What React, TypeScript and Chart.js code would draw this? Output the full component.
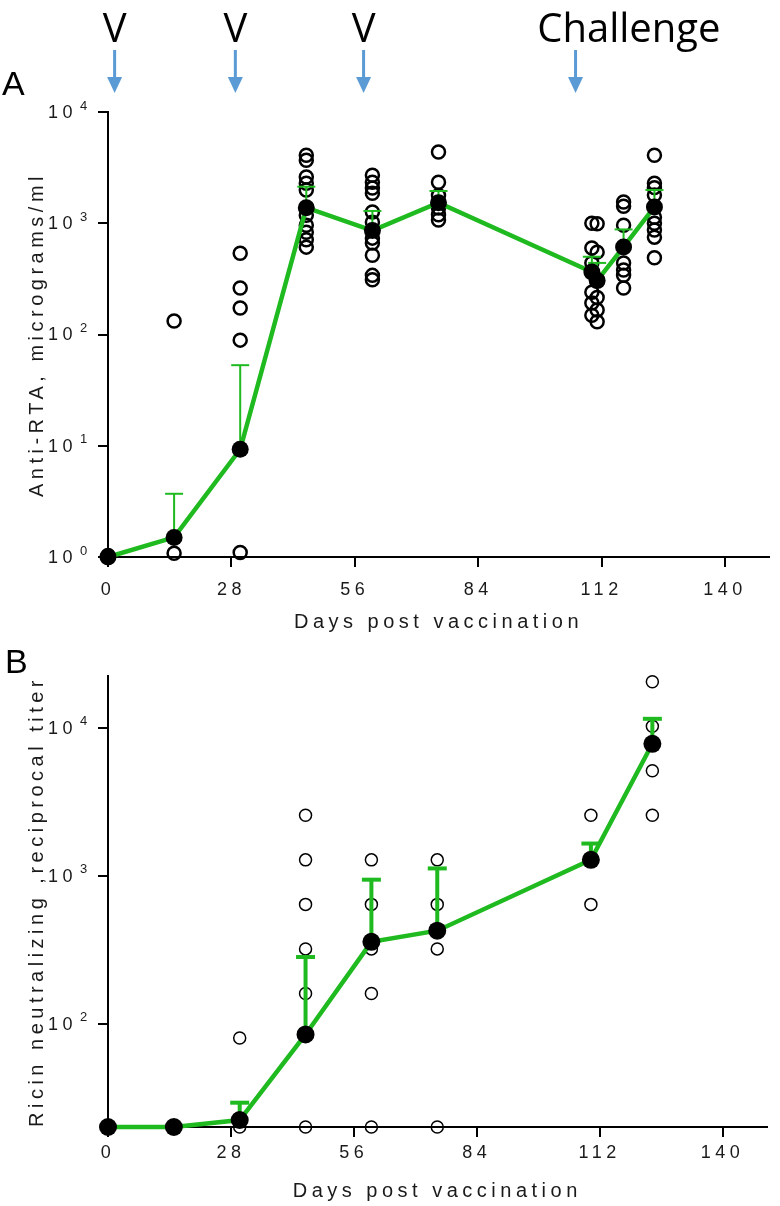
import React, { useEffect, useRef } from 'react';
import { Chart, registerables } from 'chart.js';
Chart.register(...registerables);

// ---------- shared ----------
const xTicks = [0, 28, 56, 84, 112, 140];
const X_MAX = 150;
const xTitle = 'Days post vaccination';

// ---------- panel A ----------
const daysA = [0, 15, 30, 45, 60, 75, 109.8, 111, 117, 124];
const meanA = [1.0, 1.5, 9.3, 1380, 860, 1530, 365, 305, 613, 1400];
const upperA = [null, 3.7, 53, 2130, 1290, 1950, 500, 440, 880, 1990];
const indivA = [
  [1.0, 1.03],
  [132, 1.08],
  [537, 262, 173, 89, 1.1],
  [4090, 3690, 2600, 2290, 1990, 1180, 960, 830, 710, 610],
  [2700, 2340, 2070, 1860, 1260, 1020, 735, 665, 515, 340, 310],
  [4370, 2340, 1780, 1370, 1190, 1070],
  [1000, 600, 440, 240, 192, 149],
  [990, 550, 310, 215, 166, 130],
  [1550, 1420, 960, 440, 380, 340, 262],
  [4090, 2290, 2090, 1790, 1130, 1000, 870, 750, 490],
];
const yTicksA = [1, 10, 100, 1000, 10000];
const yTitleA = 'Anti-RTA, micrograms/ml';

// annotations above panel A
const arrowDays = [1.5, 28.9, 58.0, 106.1];
const annLabels = ['V', 'V', 'V', 'Challenge'];
const annLabelDays = [1.5, 28.9, 58.0, 118.2];

// ---------- panel B ----------
const daysB = [0, 15, 30, 45, 60, 75, 110, 124];
const meanB = [20, 20, 22.3, 84.5, 357, 425, 1280, 7800];
const upperB = [null, null, 29.2, 282, 940, 1120, 1650, 11500];
const indivB = [
  [20],
  [20],
  [80, 20],
  [2560, 1280, 640, 320, 160, 20],
  [1280, 640, 320, 160, 20],
  [1280, 640, 320, 20],
  [2560, 640],
  [20480, 10240, 5120, 2560],
];
const yTicksB = [100, 1000, 10000];
const yTitleB = 'Ricin neutralizing ,reciprocal titer';

const GREEN = '#1fba1f';
const TEXT = '#1a1a1a';
const FAMILY = "'Liberation Sans', Arial, sans-serif";

type Panel = {
  days: number[];
  mean: number[];
  upper: (number | null)[];
  indiv: number[][];
  yTicks: number[];
  yMin: number;
  yMax: number;
  yTitle: string;
  height: number;
  padTop: number;
  xAxisH: number;
  tickPad: number;
  titlePadBottom: number;
  openR: number;
  openW: number;
  meanR: number;
  errW: number;
  capR: number;
  letter: string;
  letterX: number;
  letterY: number;
  annotate: boolean;
};

const letterSpacingPlugin = {
  id: 'letterSpacing',
  beforeDraw(chart: any) {
    (chart.ctx as any).letterSpacing = '4.5px';
  },
};

function makeConfig(p: Panel) {
  const open = p.indiv.flatMap((vals, i) => vals.map((v) => ({ x: p.days[i], y: v })));
  const errLine = p.upper.flatMap((u, i) =>
    u == null ? [] : [{ x: p.days[i], y: p.mean[i] }, { x: p.days[i], y: u }, { x: p.days[i], y: null }]
  );
  const caps = p.upper.flatMap((u, i) => (u == null ? [] : [{ x: p.days[i], y: u }]));
  const meanPts = p.days.map((d, i) => ({ x: d, y: p.mean[i] }));

  const panelPlugin = {
    id: 'panelDecor',
    afterDraw(chart: any) {
      const ctx = chart.ctx;
      const ys = chart.scales.y;
      // y tick labels: 10 with raised exponent
      ctx.save();
      ctx.fillStyle = TEXT;
      (ctx as any).letterSpacing = '4.5px';
      p.yTicks.forEach((v) => {
        const y = ys.getPixelForValue(v);
        const e = Math.round(Math.log10(v));
        ctx.font = `18px ${FAMILY}`;
        ctx.textAlign = 'right';
        ctx.textBaseline = 'middle';
        ctx.fillText('10', 77, y + 1);
        ctx.font = `13px ${FAMILY}`;
        ctx.textAlign = 'left';
        ctx.fillText(String(e), 80, y - 6);
      });
      ctx.restore();

      ctx.save();
      (ctx as any).letterSpacing = '0px';
      ctx.fillStyle = '#000';
      ctx.font = `34px ${FAMILY}`;
      ctx.textAlign = 'left';
      ctx.textBaseline = 'alphabetic';
      ctx.fillText(p.letter, p.letterX, p.letterY);
      if (p.annotate) {
        const xs = chart.scales.x;
        ctx.fillStyle = '#5b9bd5';
        arrowDays.forEach((d) => {
          const x = xs.getPixelForValue(d);
          ctx.fillRect(x - 1.5, 50, 3, 28);
          ctx.beginPath();
          ctx.moveTo(x - 7.5, 77);
          ctx.lineTo(x + 7.5, 77);
          ctx.lineTo(x, 93);
          ctx.closePath();
          ctx.fill();
        });
        ctx.fillStyle = '#000';
        ctx.font = `40px 'Open Sans', sans-serif`;
        ctx.textAlign = 'center';
        annLabels.forEach((t, i) => {
          ctx.fillText(t, xs.getPixelForValue(annLabelDays[i]), 42);
        });
      }
      ctx.restore();
    },
  };

  const axisCommon = {
    grid: { display: true, drawOnChartArea: false, drawTicks: true, tickLength: 10, color: '#000', lineWidth: 2 },
    border: { display: true, color: '#000', width: 2 },
  };

  return {
    type: 'scatter' as const,
    data: {
      datasets: [
        {
          data: meanPts,
          showLine: false,
          pointRadius: p.meanR,
          pointBackgroundColor: '#000',
          pointBorderColor: '#000',
          pointBorderWidth: 0,
          order: 0,
          clip: false,
        },
        {
          data: meanPts,
          showLine: true,
          borderColor: GREEN,
          borderWidth: 4.5,
          pointRadius: 0,
          order: 1,
          clip: false,
        },
        {
          data: caps,
          showLine: false,
          pointStyle: 'line',
          pointRadius: p.capR,
          pointBorderColor: GREEN,
          pointBorderWidth: p.errW,
          order: 2,
          clip: false,
        },
        {
          data: errLine,
          showLine: true,
          spanGaps: false,
          borderColor: GREEN,
          borderWidth: p.errW,
          pointRadius: 0,
          order: 3,
          clip: false,
        },
        {
          data: open,
          showLine: false,
          pointRadius: p.openR,
          pointBackgroundColor: 'rgba(255,255,255,0)',
          pointBorderColor: '#000',
          pointBorderWidth: p.openW,
          order: 4,
          clip: false,
        },
      ],
    },
    options: {
      animation: false,
      responsive: false,
      maintainAspectRatio: false,
      events: [],
      layout: { padding: { top: p.padTop, left: 0, right: 2, bottom: 0 } },
      plugins: { legend: { display: false }, tooltip: { enabled: false } },
      scales: {
        x: {
          type: 'linear',
          min: 0,
          max: X_MAX,
          afterBuildTicks: (s: any) => {
            s.ticks = xTicks.map((v) => ({ value: v }));
          },
          afterFit: (s: any) => {
            s.height = p.xAxisH;
          },
          ticks: {
            color: TEXT,
            font: { size: 18, family: FAMILY },
            padding: p.tickPad,
            maxRotation: 0,
            autoSkip: false,
            callback: (v: any) => String(v),
          },
          title: {
            display: true,
            text: xTitle,
            color: TEXT,
            font: { size: 20, family: FAMILY },
            padding: { top: 0, bottom: p.titlePadBottom },
          },
          ...axisCommon,
        },
        y: {
          type: 'logarithmic',
          min: p.yMin,
          max: p.yMax,
          afterBuildTicks: (s: any) => {
            s.ticks = p.yTicks.map((v) => ({ value: v }));
          },
          afterFit: (s: any) => {
            s.width = 108;
          },
          ticks: {
            display: false,
          },
          title: {
            display: true,
            text: p.yTitle,
            color: TEXT,
            font: { size: 20, family: FAMILY },
            padding: { top: 25, bottom: 0 },
          },
          ...axisCommon,
        },
      },
    },
    plugins: [letterSpacingPlugin, panelPlugin],
  };
}

const panelA: Panel = {
  days: daysA,
  mean: meanA,
  upper: upperA,
  indiv: indivA,
  yTicks: yTicksA,
  yMin: 1,
  yMax: 10000,
  yTitle: yTitleA,
  height: 640,
  padTop: 112,
  xAxisH: 83,
  tickPad: 12,
  titlePadBottom: 6,
  openR: 6.5,
  openW: 2.5,
  meanR: 8.5,
  errW: 2,
  capR: 9,
  letter: 'A',
  letterX: 2,
  letterY: 95,
  annotate: true,
};

const panelB: Panel = {
  days: daysB,
  mean: meanB,
  upper: upperB,
  indiv: indivB,
  yTicks: yTicksB,
  yMin: 20,
  yMax: 22400,
  yTitle: yTitleB,
  height: 566,
  padTop: 36,
  xAxisH: 79,
  tickPad: 5,
  titlePadBottom: 3,
  openR: 6,
  openW: 1.5,
  meanR: 9,
  errW: 4,
  capR: 9.5,
  letter: 'B',
  letterX: 5,
  letterY: 33,
  annotate: false,
};

function PanelChart({ panel, top }: { panel: Panel; top: number }) {
  const ref = useRef<HTMLCanvasElement | null>(null);
  useEffect(() => {
    if (!ref.current) return;
    const chart = new Chart(ref.current, makeConfig(panel) as any);
    return () => chart.destroy();
  }, [panel]);
  return (
    <canvas
      ref={ref}
      width={780}
      height={panel.height}
      style={{ position: 'absolute', left: 0, top, width: 780, height: panel.height, display: 'block' }}
    />
  );
}

export default function App() {
  return (
    <div style={{ position: 'absolute', left: 0, top: 0, width: 780, height: 1206, background: '#fff' }}>
      <PanelChart panel={panelA} top={0} />
      <PanelChart panel={panelB} top={640} />
    </div>
  );
}
